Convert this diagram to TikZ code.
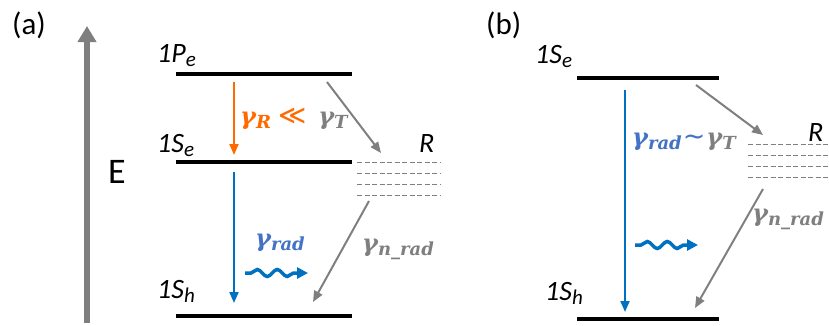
\documentclass[tikz,border=0pt]{standalone}
\usepackage{fontspec}
\setmainfont{Carlito}
\newfontfamily\ratefont{DejaVu Serif}
\newfontfamily\symfont{DejaVu Sans}
\usetikzlibrary{arrows.meta,decorations.pathmorphing}

\definecolor{exorange}{HTML}{FF6A00}
\definecolor{exblue}{HTML}{0070C0}
\definecolor{ratblue}{HTML}{4472C4}
\definecolor{trapgray}{HTML}{7F7F7F}

\newcommand{\lvl}[2]{#1\raisebox{-0.3ex}{\fontsize{21}{21}\selectfont #2}}
\newcommand{\rt}[1]{{\ratefont\bfseries\itshape γ\raisebox{-0.2em}{\fontsize{18}{18}\selectfont #1}}}

\tikzset{
  level/.style={line width=4pt},
  trap/.style={trapgray, line width=1pt, dash pattern=on 5pt off 2.5pt},
  decay/.style={line width=2pt, -{Triangle[length=11pt,width=9pt]}},
  photon/.style={exblue, line width=3.5pt, -{Triangle[length=11pt,width=11pt]},
    decorate, decoration={snake, amplitude=3.5pt, segment length=20pt, pre length=6pt, post length=10pt}},
  lbl/.style={font=\fontsize{28}{28}\selectfont\itshape, inner sep=0pt, anchor=base west},
  rate/.style={font=\fontsize{24}{24}\selectfont, inner sep=0pt, anchor=base west}
}

\begin{document}
\begin{tikzpicture}[x=1pt, y=-1pt]
\useasboundingbox (0,0) rectangle (829,325);
% panel (a):
\node[inner sep=0pt, anchor=base west, font=\fontsize{31}{31}\selectfont] (taga) at (12,34) {(a)};
\coordinate (Elo) at (87,323); \coordinate (Ehi) at (87,26);
\draw[trapgray, line width=6pt, -{Triangle[length=16pt,width=18pt]}] (Elo) -- (Ehi);
\node[inner sep=0pt, anchor=base west, font=\fontsize{36}{36}\selectfont] (E) at (108,183) {E};
% levels:
\draw[level] (176,74) coordinate (Pa-l) -- (352,74) coordinate (Pa-r);
\draw[level] (176,162) coordinate (Sea-l) -- (352,162) coordinate (Sea-r);
\draw[level] (176,316) coordinate (Sha-l) -- (352,316) coordinate (Sha-r);
\node[lbl] (Pa) at (157,62) {\lvl{1P}{e}};
\node[lbl] (Sea) at (157,152) {\lvl{1S}{e}};
\node[lbl] (Sha) at (157,298) {\lvl{1S}{h}};
% trap states:
\foreach \y in {162,173,184,195} \draw[trap] (357,\y) -- (440,\y);
\node[lbl] (Ra) at (419,152) {R};
% decays:
\coordinate (oa1) at (234,82); \coordinate (oa2) at (234,155);
\draw[decay, exorange] (oa1) -- (oa2);
\coordinate (ba1) at (234,172); \coordinate (ba2) at (234,303);
\draw[decay, exblue] (ba1) -- (ba2);
\coordinate (ga1) at (327,82); \coordinate (ga2) at (381,153);
\draw[decay, trapgray] (ga1) -- (ga2);
\coordinate (ga3) at (369,201); \coordinate (ga4) at (313,302);
\draw[decay, trapgray] (ga3) -- (ga4);
\node[rate] (RT) at (240,124) {\color{exorange}\rt{R}\hspace{7pt}{\symfont\fontsize{27}{27}\selectfont ≪}\hspace{12pt}\color{trapgray}\rt{T}};
\node[rate, ratblue] (rada) at (255,246) {\rt{rad}};
\node[rate, trapgray] (nrada) at (362,251) {\rt{n\_rad}};
\coordinate (wa1) at (245,273); \coordinate (wa2) at (308,273);
\draw[photon] (wa1) -- (wa2);
% panel (b):
\node[inner sep=0pt, anchor=base west, font=\fontsize{31}{31}\selectfont] (tagb) at (486,34) {(b)};
% levels:
\draw[level] (577,78) coordinate (Seb-l) -- (719,78) coordinate (Seb-r);
\draw[level] (577,319) coordinate (Shb-l) -- (719,319) coordinate (Shb-r);
\node[lbl] (Seb) at (535,63) {\lvl{1S}{e}};
\node[lbl] (Shb) at (545,300) {\lvl{1S}{h}};
% trap states:
\foreach \y in {144,155,166,177} \draw[trap] (748,\y) -- (829,\y);
\node[lbl] (Rb) at (808,141) {R};
% decays:
\coordinate (bb1) at (625,90); \coordinate (bb2) at (625,312);
\draw[decay, exblue] (bb1) -- (bb2);
\coordinate (gb1) at (696,85); \coordinate (gb2) at (763,135);
\draw[decay, trapgray] (gb1) -- (gb2);
\coordinate (gb3) at (763,189); \coordinate (gb4) at (695,308);
\draw[decay, trapgray] (gb3) -- (gb4);
\node[rate] (radT) at (632,145) {\color{ratblue}\rt{rad}\hspace{1pt}{\symfont\fontsize{27}{27}\selectfont\char"223C}\hspace{1pt}\color{trapgray}\rt{T}};
\node[rate, trapgray] (nradb) at (752,221) {\rt{n\_rad}};
\coordinate (wb1) at (635,245); \coordinate (wb2) at (698,245);
\draw[photon] (wb1) -- (wb2);
\end{tikzpicture}
\end{document}
